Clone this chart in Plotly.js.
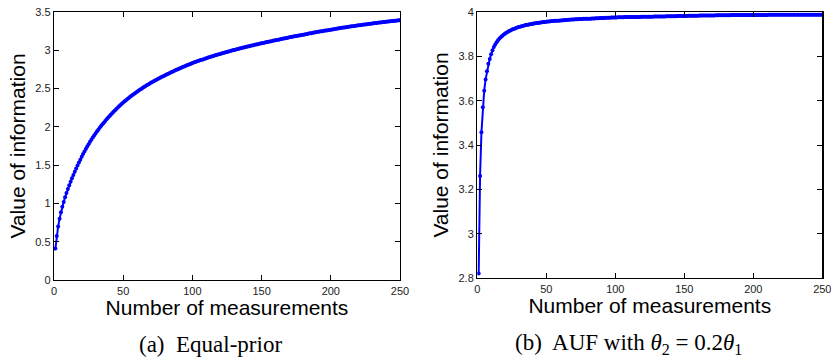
<!DOCTYPE html>
<html>
<head>
<meta charset="utf-8">
<script src="https://cdn.plot.ly/plotly-3.0.1.min.js"></script>
<style>html,body{margin:0;padding:0;background:#fff;}#chart{width:831px;height:358px;}</style>
</head>
<body>
<div id="chart"></div>
<script>
// Panel (a): Equal-prior, value of information for n = 1..250 measurements
const equalPriorValues = [
0.410,0.575,0.700,0.800,0.885,0.955,1.020,1.080,1.135,1.187,
1.236,1.283,1.328,1.372,1.414,1.455,1.495,1.534,1.572,1.609,
1.644,1.678,1.711,1.743,1.774,1.804,1.833,1.861,1.888,1.914,
1.939,1.963,1.987,2.010,2.033,2.055,2.077,2.098,2.119,2.139,
2.159,2.178,2.197,2.215,2.233,2.251,2.268,2.285,2.301,2.317,
2.333,2.348,2.363,2.378,2.392,2.406,2.420,2.433,2.446,2.459,
2.472,2.484,2.496,2.508,2.520,2.531,2.542,2.553,2.564,2.575,
2.585,2.595,2.605,2.615,2.625,2.635,2.644,2.653,2.662,2.672,
2.681,2.689,2.698,2.707,2.716,2.724,2.732,2.741,2.749,2.757,
2.765,2.773,2.781,2.788,2.796,2.804,2.811,2.818,2.825,2.833,
2.839,2.846,2.852,2.859,2.866,2.872,2.878,2.884,2.890,2.897,
2.902,2.908,2.914,2.920,2.926,2.931,2.937,2.942,2.948,2.953,
2.958,2.963,2.969,2.974,2.979,2.984,2.989,2.994,2.999,3.004,
3.008,3.013,3.018,3.022,3.027,3.032,3.036,3.041,3.045,3.050,
3.054,3.058,3.062,3.067,3.071,3.075,3.079,3.083,3.087,3.092,
3.096,3.100,3.104,3.108,3.112,3.115,3.119,3.123,3.127,3.131,
3.135,3.139,3.142,3.146,3.150,3.154,3.157,3.161,3.165,3.169,
3.172,3.176,3.179,3.183,3.187,3.190,3.194,3.197,3.201,3.204,
3.207,3.211,3.214,3.218,3.221,3.224,3.228,3.231,3.234,3.238,
3.241,3.244,3.247,3.250,3.254,3.257,3.260,3.263,3.266,3.269,
3.272,3.275,3.278,3.281,3.284,3.287,3.290,3.293,3.296,3.299,
3.301,3.304,3.307,3.310,3.313,3.315,3.318,3.320,3.323,3.326,
3.328,3.331,3.333,3.336,3.338,3.340,3.343,3.345,3.348,3.350,
3.352,3.355,3.357,3.359,3.362,3.364,3.366,3.368,3.370,3.373,
3.375,3.377,3.379,3.381,3.383,3.385,3.387,3.389,3.391,3.393
];

// Panel (b): AUF with theta2 = 0.2 theta1
const aufValues = [
2.820,3.260,3.457,3.570,3.645,3.696,3.733,3.767,3.788,3.809,
3.828,3.842,3.853,3.863,3.872,3.880,3.886,3.892,3.897,3.902,
3.906,3.910,3.914,3.917,3.920,3.923,3.925,3.928,3.930,3.932,
3.934,3.936,3.937,3.939,3.941,3.942,3.943,3.945,3.946,3.947,
3.948,3.949,3.950,3.951,3.952,3.953,3.954,3.955,3.955,3.956,
3.957,3.957,3.958,3.959,3.959,3.960,3.960,3.961,3.961,3.962,
3.962,3.963,3.963,3.964,3.964,3.965,3.965,3.966,3.966,3.966,
3.967,3.967,3.967,3.968,3.968,3.968,3.969,3.969,3.969,3.970,
3.970,3.970,3.971,3.971,3.971,3.972,3.972,3.972,3.973,3.973,
3.973,3.973,3.974,3.974,3.974,3.974,3.975,3.975,3.975,3.975,
3.975,3.976,3.976,3.976,3.976,3.976,3.977,3.977,3.977,3.977,
3.978,3.978,3.978,3.978,3.978,3.978,3.978,3.978,3.979,3.979,
3.979,3.979,3.979,3.979,3.979,3.979,3.979,3.980,3.980,3.980,
3.980,3.980,3.980,3.980,3.980,3.980,3.981,3.981,3.981,3.981,
3.981,3.981,3.981,3.981,3.982,3.982,3.982,3.982,3.982,3.982,
3.982,3.982,3.983,3.983,3.983,3.983,3.983,3.983,3.983,3.983,
3.984,3.984,3.984,3.984,3.984,3.984,3.984,3.984,3.984,3.984,
3.984,3.984,3.985,3.985,3.985,3.985,3.985,3.985,3.985,3.985,
3.985,3.985,3.985,3.986,3.986,3.986,3.986,3.986,3.986,3.986,
3.986,3.986,3.986,3.986,3.986,3.986,3.986,3.987,3.987,3.987,
3.987,3.987,3.987,3.987,3.987,3.987,3.987,3.987,3.987,3.987,
3.988,3.988,3.988,3.988,3.988,3.988,3.988,3.988,3.988,3.988,
3.988,3.988,3.988,3.988,3.988,3.988,3.988,3.988,3.988,3.988,
3.988,3.988,3.988,3.988,3.988,3.988,3.988,3.988,3.988,3.988,
3.988,3.988,3.988,3.988,3.988,3.988,3.988,3.988,3.988,3.988
];

const xTickVals = [0, 50, 100, 150, 200, 250];
const yTickValsA = [0, 0.5, 1, 1.5, 2, 2.5, 3, 3.5];
const yTickTextA = ["0", "0.5", "1", "1.5", "2", "2.5", "3", "3.5"];
const yTickValsB = [2.8, 3, 3.2, 3.4, 3.6, 3.8, 4];
const yTickTextB = ["2.8", "3", "3.2", "3.4", "3.6", "3.8", "4"];
const xTitle = "Number of measurements";
const yTitle = "Value of information";
const captionA = "(a)  Equal-prior";
const captionB = "(b)  AUF with <i>θ</i><sub>2</sub> = 0.2<i>θ</i><sub>1</sub>";

const nA = equalPriorValues.map((_, i) => i + 1);
const nB = aufValues.map((_, i) => i + 1);

const W = 831, H = 358;
const sans = '"Liberation Sans", Arial, Helvetica, sans-serif';
const serif = '"Liberation Serif", "Times New Roman", serif';

const lineStyle = { color: '#0000ff', width: 2 };
const markerStyle = { color: '#0000ff', size: 4, symbol: 'circle' };

const traces = [
  { x: nA, y: equalPriorValues, xaxis: 'x', yaxis: 'y', mode: 'lines+markers',
    line: lineStyle, marker: markerStyle, hoverinfo: 'skip' },
  { x: nB, y: aufValues, xaxis: 'x2', yaxis: 'y2', mode: 'lines+markers',
    line: lineStyle, marker: markerStyle, hoverinfo: 'skip' }
];

function xAxis(domain, anchor) {
  return {
    domain: domain, anchor: anchor, range: [0, 250],
    tickvals: xTickVals, ticktext: xTickVals.map(String),
    ticks: 'inside', ticklen: 5, tickwidth: 1, tickcolor: '#000',
    showline: true, linecolor: '#000', linewidth: 1.3, mirror: 'ticks',
    showgrid: false, zeroline: false, ticklabeloverflow: 'allow',
    tickfont: { family: sans, size: 11, color: '#222' },
    title: { text: xTitle, font: { family: sans, size: 21, color: '#000' }, standoff: 2 },
    automargin: false
  };
}
function yAxis(domain, anchor, range, vals, text) {
  return {
    domain: domain, anchor: anchor, range: range,
    tickvals: vals, ticktext: text,
    ticks: 'inside', ticklen: 5, tickwidth: 1, tickcolor: '#000',
    showline: true, linecolor: '#000', linewidth: 1.3, mirror: 'ticks',
    showgrid: false, zeroline: false, ticklabeloverflow: 'allow',
    tickfont: { family: sans, size: 11, color: '#222' },
    title: { text: yTitle, font: { family: sans, size: 21, color: '#000' }, standoff: 4 },
    automargin: false
  };
}

const layout = {
  width: W, height: H,
  margin: { l: 0, r: 0, t: 0, b: 0 },
  paper_bgcolor: '#fff', plot_bgcolor: '#fff',
  showlegend: false,
  xaxis: xAxis([54 / W, 400 / W], 'y'),
  yaxis: yAxis([1 - 280 / H, 1 - 12 / H], 'x', [0, 3.5], yTickValsA, yTickTextA),
  xaxis2: xAxis([477.3 / W, 822.3 / W], 'y2'),
  yaxis2: yAxis([1 - 278 / H, 1 - 12 / H], 'x2', [2.8, 4], yTickValsB, yTickTextB),
  annotations: [
    { text: captionA, xref: 'paper', yref: 'paper', x: 210 / W, y: 1 - 344 / H,
      xanchor: 'center', yanchor: 'middle', showarrow: false,
      font: { family: serif, size: 23, color: '#000' } },
    { text: captionB, xref: 'paper', yref: 'paper', x: 628 / W, y: 1 - 344 / H,
      xanchor: 'center', yanchor: 'middle', showarrow: false,
      font: { family: serif, size: 23, color: '#000' } }
  ]
};

Plotly.newPlot('chart', traces, layout, { staticPlot: true, displayModeBar: false });
</script>
</body>
</html>
